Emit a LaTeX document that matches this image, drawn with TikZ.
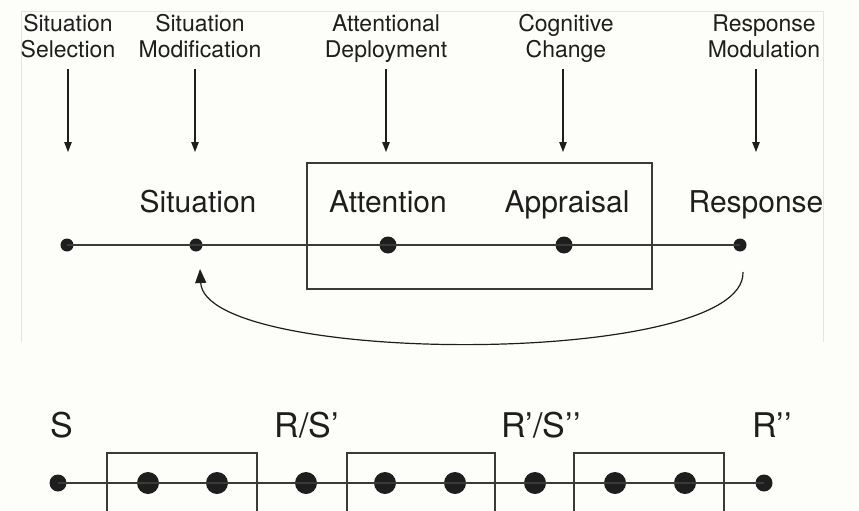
\documentclass[tikz,border=0pt]{standalone}
\usepackage{fontspec}
\setmainfont{TeX Gyre Heros}
\usetikzlibrary{arrows.meta}
\definecolor{paper}{HTML}{FDFDF9}
\definecolor{ink}{HTML}{1E1E1E}
\definecolor{rule}{HTML}{3A3A3A}
\definecolor{frame}{HTML}{E4E4E2}
\tikzset{
  stagelabel/.style={font=\fontsize{23}{26}\selectfont, text=ink, align=center, inner sep=0pt, anchor=base},
  steplabel/.style={font=\fontsize{30}{34}\selectfont, text=ink, inner sep=0pt, anchor=base},
  seqlabel/.style={font=\fontsize{34}{38}\selectfont, text=ink, inner sep=0pt, anchor=base},
  smalldot/.style={circle, fill=ink, inner sep=0pt, minimum size=13pt},
  bigdot/.style={circle, fill=ink, inner sep=0pt, minimum size=17pt},
  seqsmall/.style={circle, fill=ink, inner sep=0pt, minimum size=17pt},
  seqbig/.style={circle, fill=ink, inner sep=0pt, minimum size=22pt},
  timeline/.style={draw=rule, line width=1.8pt},
  stagearrow/.style={draw=ink, line width=1.2pt, -{Triangle[width=7.5pt,length=10pt]}},
  groupbox/.style={draw=rule, line width=1.4pt},
}
\begin{document}
\begin{tikzpicture}[x=1pt,y=-1pt]
\useasboundingbox (0,0) rectangle (859,511);
\fill[paper] (0,0) rectangle (859,511);
% faint frame of the upper panel
\draw[frame, line width=0.8pt] (21,342) -- (21,11) -- (823,11) -- (823,342);

% ---- upper panel: the five families of regulation ----
% (base anchor of a two-line label sits on its second line)
\node[stagelabel] (selL) at (68,58) {Situation\\Selection};
\node[stagelabel] (modL) at (200,58) {Situation\\Modification};
\node[stagelabel] (depL) at (386,58) {Attentional\\Deployment};
\node[stagelabel] (cogL) at (566,58) {Cognitive\\Change};
\node[stagelabel] (rspL) at (764,58) {Response\\Modulation};

\coordinate (selT) at (68,69);  \coordinate (selH) at (68,152);
\coordinate (modT) at (195,69); \coordinate (modH) at (195,152);
\coordinate (depT) at (386,69); \coordinate (depH) at (386,152);
\coordinate (cogT) at (563,69); \coordinate (cogH) at (563,152);
\coordinate (rspT) at (756,69); \coordinate (rspH) at (756,152);
\draw[stagearrow] (selT) -- (selH);
\draw[stagearrow] (modT) -- (modH);
\draw[stagearrow] (depT) -- (depH);
\draw[stagearrow] (cogT) -- (cogH);
\draw[stagearrow] (rspT) -- (rspH);

\node[steplabel] (sitT) at (198,212) {Situation};
\node[steplabel] (attT) at (388,212) {Attention};
\node[steplabel] (appT) at (567,212) {Appraisal};
\node[steplabel] (resT) at (756,212) {Response};

\node[smalldot] (p0) at (67,245) {};
\node[smalldot] (p1) at (196,245) {};
\node[bigdot]   (p2) at (388,245) {};
\node[bigdot]   (p3) at (564,245) {};
\node[smalldot] (p4) at (740,245) {};
\draw[timeline] (p0.center) -- (p4.center);

\draw[groupbox] (307,163) rectangle (652,289);

% feedback from response back to the situation
\coordinate (fbA) at (743,272);
\coordinate (fbB) at (200,269);
\draw[draw=ink, line width=1.2pt, -{Triangle[width=11pt,length=14pt]}]
  (fbA) .. controls (746,368) and (205,366) .. (fbB);

% ---- lower panel: the sequence repeated over time ----
\node[seqlabel] (sS)  at (62,437)  {S};
\node[seqlabel] (sR1) at (307,437) {R/S’};
\node[seqlabel] (sR2) at (541,437) {R’/S’’};
\node[seqlabel] (sR3) at (772,437) {R’’};

\node[seqsmall] (q0) at (58,483)  {};
\node[seqbig]   (q1) at (148,483) {};
\node[seqbig]   (q2) at (217,483) {};
\node[seqbig]   (q3) at (306,483) {};
\node[seqbig]   (q4) at (385,483) {};
\node[seqbig]   (q5) at (455,483) {};
\node[seqbig]   (q6) at (535,483) {};
\node[seqbig]   (q7) at (615,483) {};
\node[seqbig]   (q8) at (685,483) {};
\node[seqsmall] (q9) at (764,483) {};
\draw[timeline] (q0.center) -- (q9.center);

\draw[groupbox, line width=1.6pt] (107,515) -- (107,453) -- (257,453) -- (257,515);
\draw[groupbox, line width=1.6pt] (347,515) -- (347,453) -- (495,453) -- (495,515);
\draw[groupbox, line width=1.6pt] (574,515) -- (574,453) -- (724,453) -- (724,515);
\end{tikzpicture}
\end{document}
